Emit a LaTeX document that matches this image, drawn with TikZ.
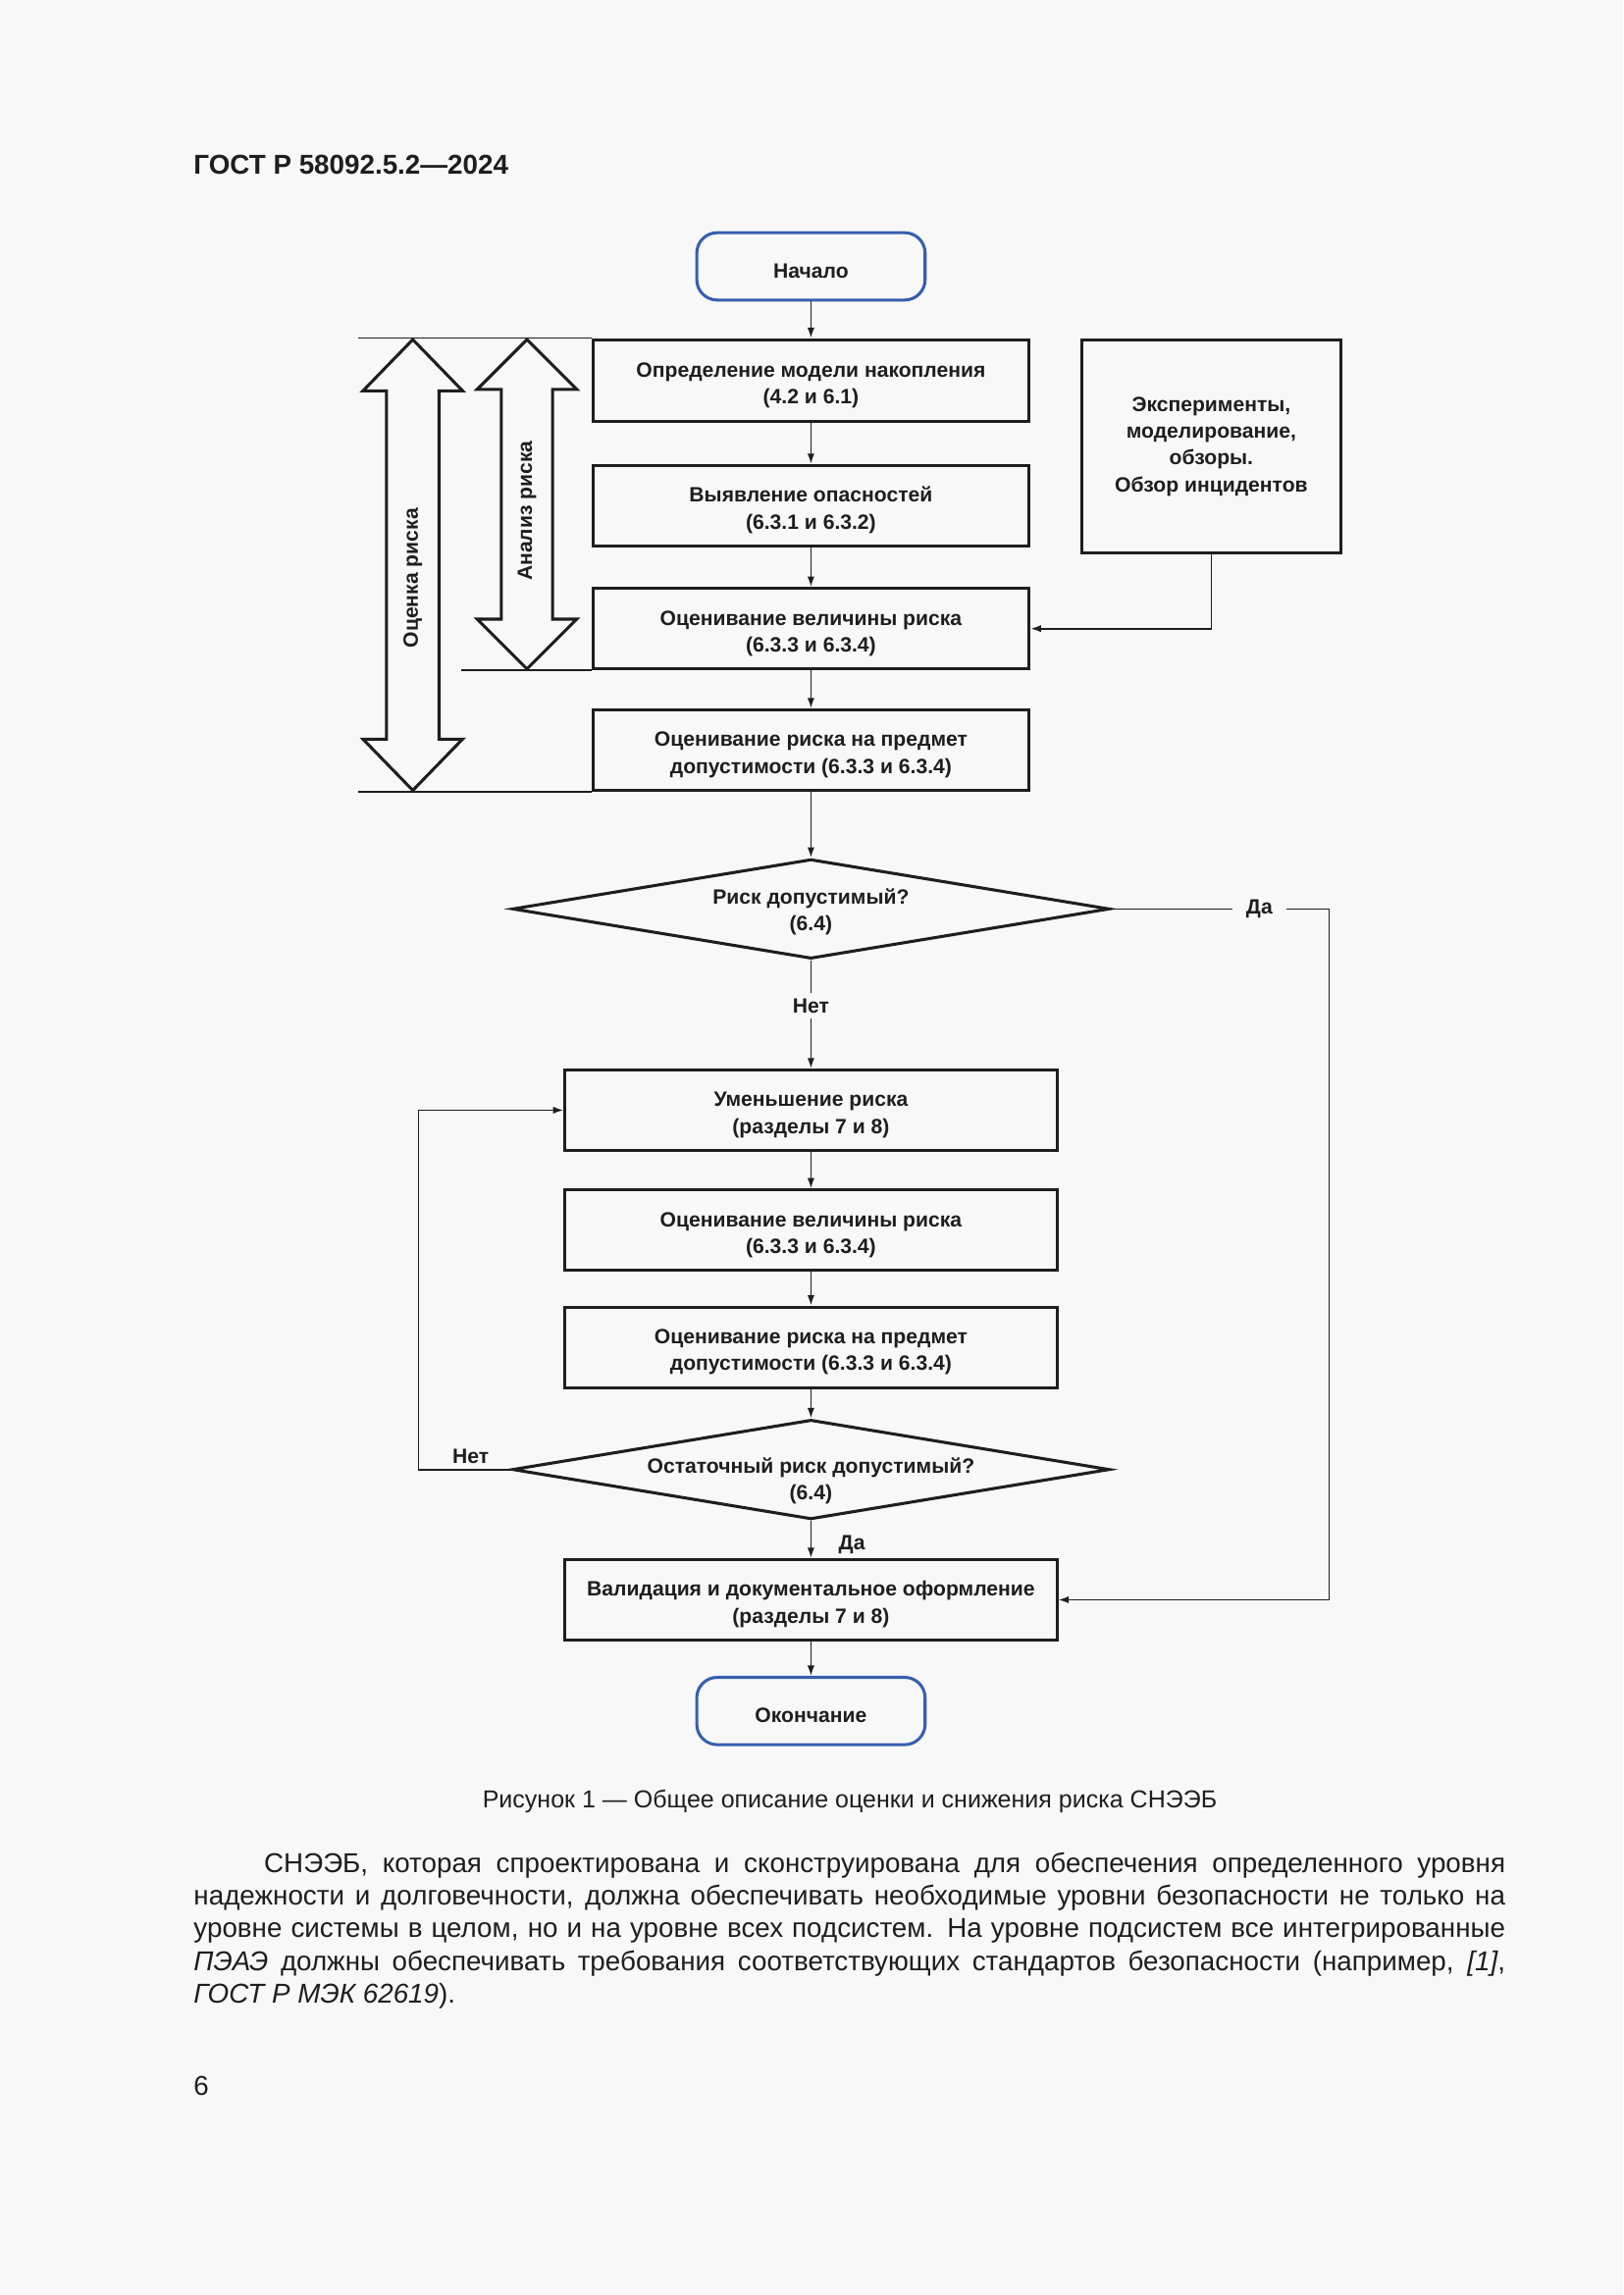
\documentclass[tikz,border=0pt]{standalone}
\usepackage{fontspec}
\setmainfont{Liberation Sans}
\usetikzlibrary{arrows.meta,shapes.geometric}
\definecolor{bg}{RGB}{248,248,248}
\definecolor{ink}{RGB}{30,30,30}
\definecolor{bl}{RGB}{55,95,175}
\def\U{0.5368pt}
\newcommand{\fcfont}{\fontsize{7.6}{9.8}\selectfont\bfseries}
\newcommand{\dn}{\rule{0pt}{8.8pt}}
\begin{document}
\begin{tikzpicture}[x=0.5368pt,y=-0.5368pt,
  box/.style={draw=ink, line width=1.1pt, rectangle, inner sep=0pt, align=center, text=ink, font=\fcfont, minimum height=55*\U},
  term/.style={draw=bl, line width=1.1pt, rounded corners=7.5pt, minimum width=156*\U, minimum height=46*\U, inner sep=0pt, text=ink, font=\fcfont},
  conn/.style={draw=ink, line width=0.6pt, -{Latex[length=3.8pt,width=2.6pt]}},
  plain/.style={draw=ink, line width=0.6pt},
  txt/.style={text=ink, font=\fcfont, align=center, inner sep=0pt},
  lbl/.style={fill=bg, text=ink, font=\fcfont, inner xsep=5pt, inner ysep=2pt},
  bigarrow/.style={draw=ink, line width=1.1pt, line join=miter},
  dia/.style={diamond, draw=ink, line width=1.1pt, minimum width=408*\U, minimum height=68*\U, inner sep=0pt}
]
\fill[bg] (0,0) rectangle (1109,1568);
\useasboundingbox (0,0) rectangle (1109,1568);

% header
\node[anchor=base west, inner sep=0pt, text=ink, font=\fontsize{10}{12}\selectfont\bfseries] (hdr) at (132,119) {ГОСТ Р 58092.5.2—2024};

% helper coordinates
\coordinate (L1) at (245,0);
\coordinate (L2) at (315,0);
\coordinate (yesX) at (908,0);
\coordinate (noX) at (286,0);

% nodes
\node[term] (start) at (554,182) {\dn Начало};
\node[box, minimum width=298*\U, minimum height=56*\U] (b1) at (554,260) {\dn Определение модели накопления\\(4.2 и 6.1)};
\node[box, minimum width=298*\U] (b2) at (554,345.5) {\dn Выявление опасностей\\(6.3.1 и 6.3.2)};
\node[box, minimum width=298*\U] (b3) at (554,429.5) {\dn Оценивание величины риска\\(6.3.3 и 6.3.4)};
\node[box, minimum width=298*\U] (b4) at (554,512.5) {\dn Оценивание риска на предмет\\допустимости (6.3.3 и 6.3.4)};
\node[box, minimum width=177*\U, minimum height=146*\U] (side) at (827.5,305) {Эксперименты,\\моделирование,\\обзоры.\\Обзор инцидентов};

\node[dia] (d1) at (554,621) {};
\node[txt] (d1t) at (554,623) {Риск допустимый?\\(6.4)};

\node[box, minimum width=336*\U] (b5) at (554,758.5) {\dn Уменьшение риска\\(разделы 7 и 8)};
\node[box, minimum width=336*\U] (b6) at (554,840.5) {\dn Оценивание величины риска\\(6.3.3 и 6.3.4)};
\node[box, minimum width=336*\U] (b7) at (554,920.5) {\dn Оценивание риска на предмет\\допустимости (6.3.3 и 6.3.4)};

\node[dia] (d2) at (554,1004) {};
\node[txt] (d2t) at (554,1012) {Остаточный риск допустимый?\\(6.4)};

\node[box, minimum width=336*\U] (b8) at (554,1093) {\dn Валидация и документальное оформление\\(разделы 7 и 8)};
\node[term] (end) at (554,1169) {\dn Окончание};

% level lines
\draw[plain] (b1.north west -| L1) -- (b1.north west);
\draw[plain] (b3.south west -| L2) -- (b3.south west);
\draw[plain] (b4.south west -| L1) -- (b4.south west);

% double arrows
\draw[bigarrow] (282,232) -- (316,267) -- (300,267) -- (300,505) -- (316,505) -- (282,540)
  -- (248,505) -- (264,505) -- (264,267) -- (248,267) -- cycle;
\draw[bigarrow] (360,232) -- (394,266) -- (377.5,266) -- (377.5,423) -- (394,423) -- (360,457)
  -- (326,423) -- (342.5,423) -- (342.5,266) -- (326,266) -- cycle;
\node[txt, rotate=90] (ocr) at (282,395) {Оценка риска};
\node[txt, rotate=90] (anr) at (360,349) {Анализ риска};

% connectors
\draw[conn] (start) -- (b1);
\draw[conn] (b1) -- (b2);
\draw[conn] (b2) -- (b3);
\draw[conn] (b3) -- (b4);
\draw[conn] (b4) -- (d1.north);
\draw[conn] (side.south) |- (b3.east);
\draw[conn] (d1.south) -- node[lbl, pos=0.42] (no1) {Нет} (b5.north);
\draw[conn] (d1.east) -- node[lbl, pos=0.68] (yes1) {Да} (d1.east -| yesX) |- (b8.east);
\draw[conn] (b5) -- (b6);
\draw[conn] (b6) -- (b7);
\draw[conn] (b7) -- (d2.north);
\draw[conn] (d2.west) -- (d2.west -| noX) |- (b5.west);
\node[txt, anchor=base] (no2) at (321.6,1000) {Нет};
\draw[conn] (d2.south) -- (b8.north);
\node[txt, anchor=base west] (yes2) at (572.6,1059) {Да};
\draw[conn] (b8) -- (end);

% caption
\node[anchor=base, inner sep=0pt, text=ink, font=\fontsize{9}{11}\selectfont] (cap) at (580.5,1235) {Рисунок 1 — Общее описание оценки и снижения риска СНЭЭБ};

% body text
\node[anchor=north west, inner sep=0pt, text=ink, font=\fontsize{10}{12}\selectfont] (body) at (132,1263.2) {\parbox[t]{481pt}{\spaceskip=0pt\xspaceskip=0pt\lineskiplimit=-10pt\parindent=0pt
\strut\hspace*{25.8pt}\makebox[455.2pt][s]{СНЭЭБ, которая спроектирована и сконструирована для обеспечения определенного уровня}\par
\noindent\makebox[481pt][s]{надежности и долговечности, должна обеспечивать необходимые уровни безопасности не только на}\par
\noindent\makebox[481pt][s]{уровне системы в целом, но и на уровне всех подсистем. На уровне подсистем все интегрированные}\par
\noindent\makebox[481pt][s]{\textit{ПЭАЭ} должны обеспечивать требования соответствующих стандартов безопасности (например, \textit{[1]},}\par
\noindent\textit{ГОСТ Р МЭК 62619}).}};

% page number
\node[anchor=base west, inner sep=0pt, text=ink, font=\fontsize{10}{12}\selectfont] (pg) at (132,1431.5) {6};
\end{tikzpicture}
\end{document}
